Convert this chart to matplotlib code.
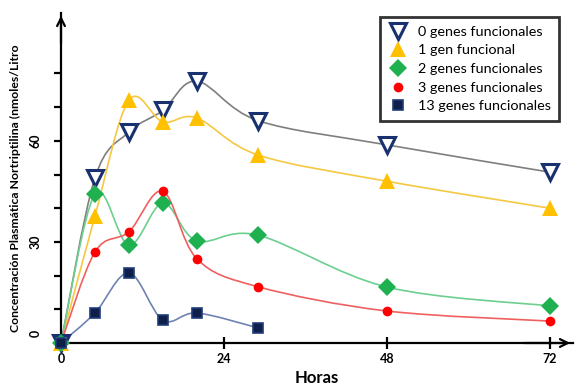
import numpy as np
import matplotlib
matplotlib.use("Agg")
import matplotlib.pyplot as plt
from matplotlib.path import Path
from matplotlib.patches import PathPatch
from matplotlib.lines import Line2D
from matplotlib.transforms import ScaledTranslation

hours = [0, 5, 10, 15, 20, 29, 48, 72]
g0 = [0, 49, 62.6, 69, 77.7, 66, 58.8, 50.7]
g1 = [0, 37.7, 72, 65.6, 66.8, 55.8, 48, 40]
g2 = [0, 44.2, 29, 41.5, 30.3, 32, 16.6, 11]
g3 = [0, 27, 33, 45, 25, 16.7, 9.5, 6.5]
hours13 = [0, 5, 10, 15, 20, 29]
g13 = [0, 8.9, 20.8, 6.8, 8.9, 4.5]

labels = ["0 genes funcionales", "1 gen funcional", "2 genes funcionales",
          "3 genes funcionales", "13 genes funcionales"]
xticks = [0, 24, 48, 72]
yticks_lab = {0: "0", 30: "30", 60: "60"}

fig = plt.figure(figsize=(5.76, 3.87), dpi=100)
ax = fig.add_axes([61/576, 44/387, 512/576, 330/387])
XMAX = 512/6.79
YMAX = 330/3.37
ax.set_xlim(0, XMAX)
ax.set_ylim(0, YMAX)

def smooth(ax, xs, ys, color, lw=1.2, z=2):
    # Excel-like smoothed line (cubic Bezier, tension 1/6) in display space
    pts = ax.transData.transform(np.column_stack([xs, ys]))
    n = len(pts)
    verts = [pts[0]]
    codes = [Path.MOVETO]
    for i in range(n - 1):
        p0 = pts[i - 1] if i > 0 else pts[i]
        p1 = pts[i]
        p2 = pts[i + 1]
        p3 = pts[i + 2] if i + 2 < n else pts[i + 1]
        c1 = p1 + (p2 - p0) / 6.0
        c2 = p2 - (p3 - p1) / 6.0
        verts += [c1, c2, p2]
        codes += [Path.CURVE4] * 3
    path = Path(ax.transData.inverted().transform(np.array(verts)), codes)
    ax.add_patch(PathPatch(path, facecolor="none", edgecolor=color, lw=lw, zorder=z))

series = [
    (hours, g0, "#7f7f7f", dict(marker="v", ms=11, mfc="white", mec="#1a3170", mew=2.2)),
    (hours, g1, "#f5c842", dict(marker="^", ms=11, mfc="#ffc000", mec="#ffc000", mew=0)),
    (hours, g2, "#6ccf8e", dict(marker="D", ms=9, mfc="#1fb04f", mec="#1fb04f", mew=0)),
    (hours, g3, "#f06060", dict(marker="o", ms=7, mfc="#ff0000", mec="#ff0000", mew=0)),
    (hours13, g13, "#6f82b3", dict(marker="s", ms=7, mfc="#0f1f4a", mec="#1f3d7a", mew=1.2)),
]

handles = []
for k, (xs, ys, lc, mk) in enumerate(series):
    smooth(ax, xs, ys, lc, z=2 + k * 0.1)
    ax.plot(xs, ys, ls="none", zorder=5 + k * 0.1, clip_on=False, **mk)
    handles.append(Line2D([], [], ls="none", **mk))

for s in ["top", "right"]:
    ax.spines[s].set_visible(False)
for s in ["left", "bottom"]:
    ax.spines[s].set_linewidth(1.6)
    ax.spines[s].set_color("black")

# axis arrows
ax.annotate("", xy=(0, 1.0), xytext=(0, 0.9), xycoords="axes fraction",
            arrowprops=dict(arrowstyle="->", lw=1.6, color="black", mutation_scale=14))
ax.annotate("", xy=(1.0, 0), xytext=(0.9, 0), xycoords="axes fraction",
            arrowprops=dict(arrowstyle="->", lw=1.6, color="black", mutation_scale=14))

ax.set_xticks(xticks)
ax.set_xticklabels([str(t) for t in xticks], fontsize=9, fontweight="bold", family="Lato")
ax.tick_params(axis="x", direction="inout", length=8, width=1.6, pad=3)
yt = list(range(0, 81, 10))
ax.set_yticks(yt)
ax.set_yticklabels([yticks_lab.get(t, "") for t in yt], fontsize=9, fontweight="bold",
                   family="Lato", rotation=90, va="center")
ax.tick_params(axis="y", direction="out", length=5, width=1.6, pad=9)
lab0 = ax.get_yticklabels()[0]
lab0.set_transform(lab0.get_transform() + ScaledTranslation(0, 10/100, fig.dpi_scale_trans))

ax.set_xlabel("Horas", fontsize=12, fontweight="bold", family="Lato", labelpad=4)
ax.text(-0.089, 0.47, "Concentración Plasmática Nortriptilina (nmoles/Litro",
        transform=ax.transAxes, rotation=90, ha="center", va="center",
        fontsize=8.8, fontweight="bold", family="Lato")

leg = ax.legend(handles, labels, loc="upper left", bbox_to_anchor=(319/512, 1 - 4/330),
                borderaxespad=0, frameon=True, fancybox=False, edgecolor="black",
                prop=dict(family="Lato", size=10.4), handletextpad=0.7, labelspacing=0.45,
                borderpad=0.6, handlelength=1.3)
leg.get_frame().set_linewidth(2)

fig.savefig("out.png", dpi=100)
